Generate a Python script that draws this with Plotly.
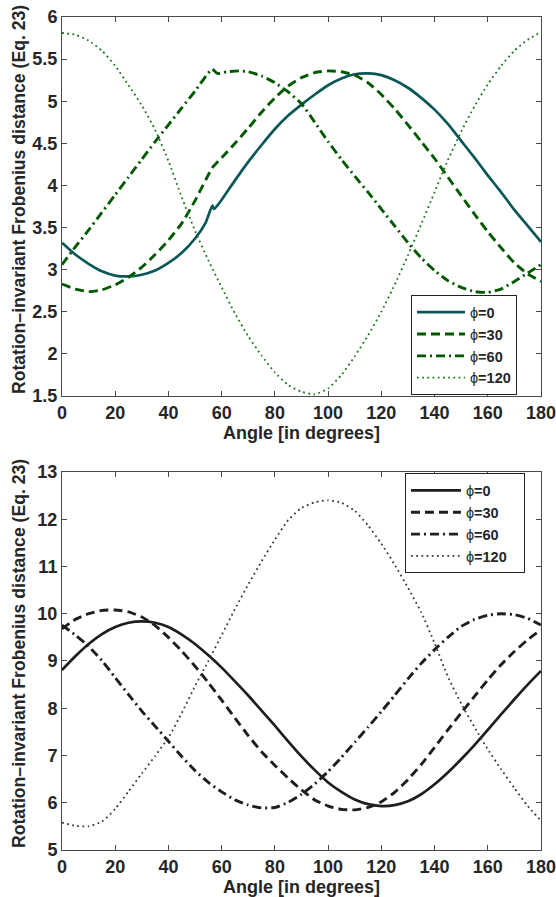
import plotly.graph_objects as go

# ---------------- data ----------------
angles = [0, 5, 10, 15, 20, 25, 30, 35, 40, 45, 50, 55, 60, 65, 70, 75, 80, 85, 90,
          95, 100, 105, 110, 115, 120, 125, 130, 135, 140, 145, 150, 155, 160, 165, 170, 175, 180]
x_ticks = [0, 20, 40, 60, 80, 100, 120, 140, 160, 180]
series_names = ["0", "30", "60", "120"]

# Top panel
top_phi0_x = [0, 5, 10, 15, 20, 25, 30, 35, 40, 45, 50, 54, 56.5, 57.2, 60, 65, 70, 75, 80, 85, 90,
              95, 100, 105, 110, 115, 120, 125, 130, 135, 140, 145, 150, 155, 160, 165, 170, 175, 180]
top_phi0_y = [3.32, 3.18, 3.07, 2.98, 2.93, 2.92, 2.94, 2.99, 3.08, 3.20, 3.37, 3.56, 3.76, 3.72, 3.83,
              4.06, 4.28, 4.48, 4.67, 4.83, 4.96, 5.08, 5.19, 5.27, 5.32, 5.33, 5.31, 5.25, 5.16, 5.04,
              4.90, 4.73, 4.53, 4.33, 4.12, 3.92, 3.71, 3.52, 3.33]

top_phi30_x = [0, 5, 10, 15, 20, 25, 30, 35, 40, 45, 50, 56.5, 60, 65, 70, 75, 80, 85, 90,
               95, 100, 105, 110, 115, 120, 125, 130, 135, 140, 145, 150, 155, 160, 165, 170, 175, 180]
top_phi30_y = [2.83, 2.77, 2.74, 2.76, 2.82, 2.91, 3.03, 3.18, 3.35, 3.55, 3.82, 4.21, 4.33, 4.50, 4.68,
               4.87, 5.04, 5.18, 5.28, 5.34, 5.36, 5.35, 5.31, 5.22, 5.08, 4.91, 4.72, 4.52, 4.32, 4.10,
               3.88, 3.66, 3.45, 3.26, 3.08, 2.95, 2.86]

top_phi60_x = [0, 5, 10, 15, 20, 25, 30, 35, 40, 45, 50, 56.4, 58.4, 62, 66.5, 70, 75, 80, 85, 90,
               95, 100, 105, 110, 115, 120, 125, 130, 135, 140, 145, 150, 155, 160, 165, 170, 175, 180]
top_phi60_y = [3.06, 3.27, 3.47, 3.68, 3.89, 4.10, 4.31, 4.52, 4.72, 4.92, 5.12, 5.38, 5.33, 5.35, 5.36,
               5.35, 5.30, 5.22, 5.11, 4.97, 4.75, 4.52, 4.31, 4.11, 3.92, 3.72, 3.52, 3.32, 3.14, 2.99,
               2.87, 2.79, 2.74, 2.73, 2.77, 2.86, 2.96, 3.06]

top_phi120_y = [5.81, 5.79, 5.72, 5.60, 5.42, 5.19, 4.95, 4.66, 4.29, 3.86, 3.46, 3.11, 2.79, 2.48, 2.21,
                1.98, 1.78, 1.63, 1.55, 1.52, 1.59, 1.75, 1.97, 2.22, 2.50, 2.82, 3.17, 3.54, 3.92, 4.30,
                4.64, 4.94, 5.20, 5.42, 5.60, 5.73, 5.82]

# Bottom panel
bot_phi0_y = [8.81, 9.10, 9.36, 9.57, 9.72, 9.81, 9.84, 9.81, 9.72, 9.56, 9.36, 9.12, 8.86, 8.57, 8.27,
              7.95, 7.63, 7.30, 6.98, 6.69, 6.43, 6.23, 6.07, 5.97, 5.93, 5.95, 6.03, 6.18, 6.39, 6.64,
              6.92, 7.22, 7.54, 7.87, 8.19, 8.50, 8.79]
bot_phi30_y = [9.68, 9.88, 10.00, 10.07, 10.08, 10.04, 9.93, 9.75, 9.50, 9.21, 8.89, 8.54, 8.17, 7.79,
               7.42, 7.08, 6.79, 6.52, 6.27, 6.06, 5.93, 5.86, 5.85, 5.90, 6.02, 6.22, 6.49, 6.81, 7.17,
               7.54, 7.90, 8.25, 8.60, 8.92, 9.20, 9.45, 9.66]
bot_phi60_y = [9.76, 9.55, 9.31, 9.01, 8.65, 8.29, 7.94, 7.62, 7.30, 6.98, 6.68, 6.43, 6.23, 6.06, 5.95,
               5.89, 5.90, 6.01, 6.18, 6.40, 6.66, 6.96, 7.28, 7.60, 7.93, 8.27, 8.62, 8.95, 9.24, 9.50,
               9.73, 9.88, 9.97, 10.00, 9.98, 9.90, 9.76]
bot_phi120_y = [5.58, 5.51, 5.50, 5.60, 5.87, 6.24, 6.62, 6.99, 7.38, 7.90, 8.47, 9.00, 9.55, 10.10,
                10.62, 11.11, 11.57, 11.98, 12.24, 12.36, 12.40, 12.35, 12.18, 11.87, 11.48, 11.04,
                10.55, 10.03, 9.38, 8.67, 8.10, 7.60, 7.13, 6.71, 6.31, 5.93, 5.62]

# ---------------- styles ----------------
TEAL = "#0b5757"
GREEN = "#005800"
DOTGREEN = "#1a751a"
BLACK = "#1e1e1e"
FONT = "Liberation Sans, Arial, Helvetica, sans-serif"

dash_styles = ["solid", "9px,5px", "9px,4px,2px,4px", "1.8px,3.4px"]
widths = [2.7, 2.9, 2.9, 1.8]

fig = go.Figure()

top_x = [top_phi0_x, top_phi30_x, top_phi60_x, angles]
top_y = [top_phi0_y, top_phi30_y, top_phi60_y, top_phi120_y]
top_colors = [TEAL, GREEN, GREEN, DOTGREEN]
for i in range(4):
    fig.add_trace(go.Scatter(
        x=top_x[i], y=top_y[i], mode="lines",
        line=dict(color=top_colors[i], width=widths[i], dash=dash_styles[i], shape="spline", smoothing=0.5),
        name="ϕ<b>=" + series_names[i] + "</b>", legendgroup="t" + series_names[i],
        xaxis="x", yaxis="y", legend="legend"))

bot_y = [bot_phi0_y, bot_phi30_y, bot_phi60_y, bot_phi120_y]
for i in range(4):
    fig.add_trace(go.Scatter(
        x=angles, y=bot_y[i], mode="lines",
        line=dict(color=BLACK if i < 3 else "#3a3a3a", width=widths[i], dash=dash_styles[i],
                  shape="spline", smoothing=0.5),
        name="ϕ<b>=" + series_names[i] + "</b>\u00a0\u00a0\u00a0", legendgroup="b" + series_names[i],
        xaxis="x2", yaxis="y2", legend="legend2"))

axis_common = dict(
    showline=True, linecolor="#4a4a4a", linewidth=1, mirror="allticks",
    ticks="inside", ticklen=5, tickcolor="#4a4a4a", tickwidth=1,
    showgrid=False, zeroline=False, automargin=False, ticklabeloverflow="allow",
    tickfont=dict(family=FONT, size=18, color="#262626", weight="bold"),
)
title_font = dict(family=FONT, size=18, color="#262626", weight="bold")
ytitle_font = dict(family=FONT, size=17.6, color="#262626", weight="bold")
ytitle = "Rotation–invariant Frobenius distance (Eq. 23)"

fig.update_layout(
    width=556, height=897,
    margin=dict(l=62, r=15, t=17, b=47),
    paper_bgcolor="white", plot_bgcolor="white",
    xaxis=dict(domain=[0, 1], range=[0, 180], tickvals=x_ticks, anchor="y",
               title=dict(text="Angle [in degrees]", font=title_font, standoff=0), **axis_common),
    yaxis=dict(domain=[0.545, 1], range=[1.5, 6], dtick=0.5, tick0=1.5, anchor="x", **axis_common),
    xaxis2=dict(domain=[0, 1], range=[0, 180], tickvals=x_ticks, anchor="y2",
                title=dict(text="Angle [in degrees]", font=title_font, standoff=0), **axis_common),
    yaxis2=dict(domain=[0, 0.4538], range=[5, 13], dtick=1, anchor="x2", **axis_common),
    legend=dict(x=0.7286, y=0.666, xanchor="left", yanchor="top",
                bgcolor="white", bordercolor="#222222", borderwidth=1,
                font=dict(family=FONT, size=14.5, color="#262626"),
                tracegroupgap=0, itemwidth=48),
    legend2=dict(x=0.716, y=0.452, xanchor="left", yanchor="top",
                 bgcolor="white", bordercolor="#222222", borderwidth=1,
                 font=dict(family=FONT, size=14.5, color="#262626"),
                 tracegroupgap=0, itemwidth=50),
    showlegend=True,
    annotations=[
        dict(text=ytitle, xref="paper", yref="paper", x=-0.0898, y=0.7815, textangle=-90,
             showarrow=False, xanchor="center", yanchor="middle", font=ytitle_font),
        dict(text=ytitle, xref="paper", yref="paper", x=-0.0898, y=0.2365, textangle=-90,
             showarrow=False, xanchor="center", yanchor="middle", font=ytitle_font),
    ],
)

fig.write_html("out.html", config={"displayModeBar": False},
               post_script="document.body.style.margin='0';document.body.style.overflow='hidden';")
